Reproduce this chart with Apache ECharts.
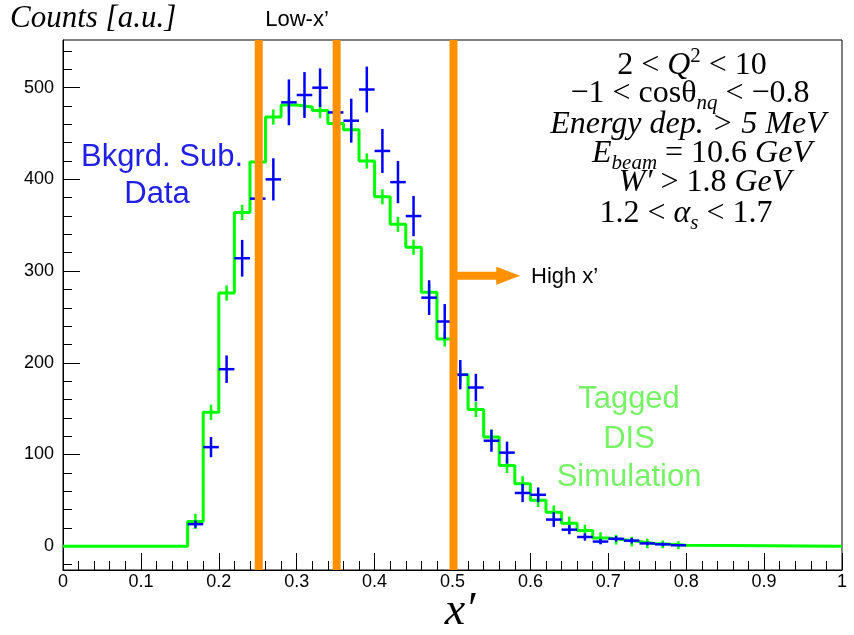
<!DOCTYPE html>
<html><head><meta charset="utf-8">
<script src="https://cdn.jsdelivr.net/npm/echarts@6/dist/echarts.min.js"></script>
<style>html,body{margin:0;padding:0;background:#fff}#c{width:854px;height:635px}</style>
</head><body><div id="c"></div>
<script>
// ---- data ----
const binLow = [0.16,0.18,0.20,0.22,0.24,0.26,0.28,0.30,0.32,0.34,0.36,0.38,0.40,0.42,0.44,0.46,0.48,0.50,0.52,0.54,0.56,0.58,0.60,0.62,0.64,0.66,0.68,0.70,0.72,0.74,0.76,0.78];
const binWidth = 0.02;
const simCounts = [27,146,276,364,419,468,481,479,475,461,454,420,381,351,326,277,226,187,149,119,88,68,50,37,25,17,9,7,5,3,2,1];
const simErr = [5,5,5,5,5,5,5,5,5,5,5,5,5,5,5,5,5,5,5,5,5,5,4,4,4,3,3,2,2,2,1,1];
const dataX = [0.17,0.19,0.21,0.23,0.25,0.27,0.29,0.31,0.33,0.35,0.37,0.39,0.41,0.43,0.45,0.47,0.49,0.51,0.53,0.55,0.57,0.59,0.61,0.63,0.65,0.67,0.69,0.71,0.73,0.75,0.77,0.79];
const dataCounts = [24,108,193,314,379,400,484,492,500,473,464,498,431,397,360,271,245,187,173,115,102,58,56,29,18,10,5,8,6,3,2,1];
const dataErr = [4,11,15,20,22,23,25,25,21,24,24,25,24,23,22,19,19,16,15,12,12,10,8,8,5,4,3,3,3,2,2,1];
const cutLines = [0.25,0.35,0.50];
const arrowFrom = [0.50, 295];
const arrowTo = [0.587, 295];
const yTicks = [0,100,200,300,400,500];
const yMinorTicks = [-20,20,40,60,80,120,140,160,180,220,240,260,280,320,340,360,380,420,440,460,480,520,540];
const xRange = [0, 1];
const yRange = [-26, 552];

// ---- build ----
const histPts = [[xRange[0],0]].concat(binLow.map((x,i)=>[x,simCounts[i]]));
histPts.push([binLow[binLow.length-1]+binWidth,0]);
histPts.push([xRange[1],0]);

const BLUE = '#0000ff', GREEN = '#00ff00', ORANGE = '#ff9100';

const mctx = document.createElement('canvas').getContext('2d');
const SF = '"Liberation Serif"';
function mathLine(cx, cy, pieces){
  const out=[]; let w=0;
  pieces.forEach(p=>{mctx.font=p.f; p.w=mctx.measureText(p.t).width; w+=p.w;});
  let x=cx-w/2;
  pieces.forEach(p=>{out.push({type:'text',x:x,y:cy+(p.dy||0),style:{text:p.t,font:p.f,fill:'#000',align:'left',verticalAlign:'middle'}}); x+=p.w;});
  return out;
}
const R='32px '+SF, I='italic 32px '+SF, S='italic 21px '+SF, SR='21px '+SF;
const mathLines = [].concat(
  mathLine(692,66,[{t:'2 < ',f:R},{t:'Q',f:I},{t:'2',f:SR,dy:-10},{t:' < 10',f:R}]),
  mathLine(690,94,[{t:'\u22121 < cos\u03B8',f:R},{t:'nq',f:S,dy:9},{t:' < \u22120.8',f:R}]),
  mathLine(688,125,[{t:'Energy dep. > 5 MeV',f:I}]),
  mathLine(702,154,[{t:'E',f:I},{t:'beam',f:S,dy:9},{t:' = 10.6 ',f:R},{t:'GeV',f:I}]),
  mathLine(705,183,[{t:'W\u2032',f:I},{t:' > 1.8 ',f:R},{t:'GeV',f:I}]),
  mathLine(686,214,[{t:'1.2 < ',f:R},{t:'\u03B1',f:I},{t:'s',f:S,dy:9},{t:' < 1.7',f:R}])
);

const chart = echarts.init(document.getElementById('c'), null, {renderer:'canvas'});
const tickFont = {fontFamily:'Liberation Sans', fontSize:18, color:'#000'};
chart.setOption({
  animation:false,
  grid:{left:63,right:12,top:40,bottom:65,show:true,borderColor:'#000',borderWidth:1,backgroundColor:'transparent'},
  xAxis:{type:'value',min:xRange[0],max:xRange[1],interval:0.1,
    axisLine:{show:true,onZero:false,lineStyle:{color:'#000',width:1}},
    axisTick:{show:true,inside:true,length:17,lineStyle:{color:'#000'}},
    minorTick:{show:true,splitNumber:5,length:9,lineStyle:{color:'#000'}},
    splitLine:{show:false},
    axisLabel:Object.assign({margin:3,formatter:v=>(v===0||v===1)?String(v):v.toFixed(1)},tickFont)},
  yAxis:[{type:'value',min:yRange[0],max:yRange[1],
    axisLine:{show:true,onZero:false,lineStyle:{color:'#000',width:1}},
    axisTick:{show:true,inside:true,length:17,customValues:yTicks,lineStyle:{color:'#000'}},
    splitLine:{show:false},
    axisLabel:Object.assign({margin:9,customValues:yTicks},tickFont)},
   {type:'value',min:yRange[0],max:yRange[1],position:'left',
    axisLine:{show:false,onZero:false},
    axisTick:{show:true,inside:true,length:9,customValues:yMinorTicks,lineStyle:{color:'#000'}},
    splitLine:{show:false},
    axisLabel:{show:false,customValues:yMinorTicks}}],
  series:[
    {type:'line',step:'end',data:histPts,symbol:'none',lineStyle:{color:GREEN,width:3},z:2},
    {type:'custom',data:binLow.map((x,i)=>[x+binWidth/2,simCounts[i],simErr[i]]),z:3,
      renderItem:(p,api)=>{const x=api.value(0),v=api.value(1),e=api.value(2);
        const t=api.coord([x,v+e]),b=api.coord([x,v-e]);
        return {type:'line',shape:{x1:t[0],y1:t[1]-3,x2:b[0],y2:b[1]+3},style:{stroke:GREEN,lineWidth:2.5}};}},
    {type:'custom',data:dataX.map((x,i)=>[x,dataCounts[i],dataErr[i]]),z:4,
      renderItem:(p,api)=>{const x=api.value(0),v=api.value(1),e=api.value(2);
        const l=api.coord([x-binWidth/2,v]),r=api.coord([x+binWidth/2,v]);
        const t=api.coord([x,v+e]),b=api.coord([x,v-e]);
        return {type:'group',children:[
          {type:'line',shape:{x1:l[0],y1:l[1],x2:r[0],y2:r[1]},style:{stroke:BLUE,lineWidth:2.5}},
          {type:'line',shape:{x1:t[0],y1:t[1],x2:b[0],y2:b[1]},style:{stroke:BLUE,lineWidth:2.5}}]};}},
    {type:'custom',data:cutLines.map(x=>[x]),z:6,
      renderItem:(p,api)=>{const cs=p.coordSys;const c=api.coord([api.value(0),0]);
        return {type:'line',shape:{x1:c[0]+1,y1:cs.y,x2:c[0]+1,y2:cs.y+cs.height},style:{stroke:ORANGE,lineWidth:8}};}},
    {type:'custom',data:[[arrowFrom[0],arrowFrom[1],arrowTo[0],arrowTo[1]]],z:6,
      renderItem:(p,api)=>{const a=api.coord([api.value(0),api.value(1)]),b=api.coord([api.value(2),api.value(3)]);
        const hl=24,hw=9;
        return {type:'group',children:[
          {type:'line',shape:{x1:a[0],y1:a[1],x2:b[0]-hl+2,y2:b[1]},style:{stroke:ORANGE,lineWidth:8}},
          {type:'polygon',shape:{points:[[b[0]-hl,b[1]-hw],[b[0],b[1]],[b[0]-hl,b[1]+hw]]},style:{fill:ORANGE}}]};}}
  ],
  graphic:[
    {type:'text',left:10,top:3,style:{text:'Counts [a.u.]',font:'italic 31px "Liberation Serif"',fill:'#000'}},
    {type:'text',x:297,y:20,style:{text:'Low-x\u2019',font:'22px "Liberation Sans"',fill:'#000',align:'center',verticalAlign:'middle'}},
    {type:'text',x:531,y:277,style:{text:'High x\u2019',font:'22px "Liberation Sans"',fill:'#000',align:'left',verticalAlign:'middle'}},
    {type:'text',x:162,y:157,style:{text:'Bkgrd. Sub.',font:'31px "Liberation Sans"',fill:'#1f1fe6',align:'center',verticalAlign:'middle'}},
    {type:'text',x:157,y:194,style:{text:'Data',font:'31px "Liberation Sans"',fill:'#1f1fe6',align:'center',verticalAlign:'middle'}},
    {type:'text',x:629,y:399,style:{text:'Tagged',font:'31px "Liberation Sans"',fill:'#77f266',align:'center',verticalAlign:'middle'}},
    {type:'text',x:629,y:439,style:{text:'DIS',font:'31px "Liberation Sans"',fill:'#77f266',align:'center',verticalAlign:'middle'}},
    {type:'text',x:629,y:477,style:{text:'Simulation',font:'31px "Liberation Sans"',fill:'#77f266',align:'center',verticalAlign:'middle'}},
    {type:'text',x:460,y:612,style:{text:'x\u2032',font:'italic 46px "Liberation Serif"',fill:'#000',align:'center',verticalAlign:'middle'}}
  ].concat(mathLines)
});
</script></body></html>
